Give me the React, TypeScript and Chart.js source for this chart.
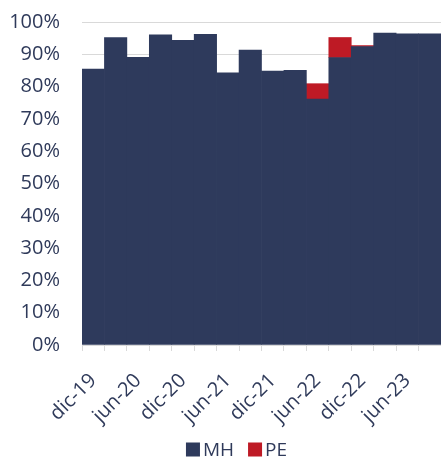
import React, { useEffect, useRef } from "react";
import { Chart, registerables } from "chart.js";

Chart.register(...registerables);

const categories = [
  "dic-19", "mar-20", "jun-20", "sep-20", "dic-20", "mar-21", "jun-21", "sep-21",
  "dic-21", "mar-22", "jun-22", "sep-22", "dic-22", "mar-23", "jun-23", "sep-23",
];
const mhValues = [85.4, 95.2, 89.1, 96.0, 94.3, 96.2, 84.3, 91.3, 84.8, 85.0, 76.1, 89.0, 92.4, 96.6, 96.3, 96.3];
const peValues = [null, null, null, null, null, null, null, null, null, null, 4.8, 6.2, 0.3, null, null, null];

const TEXT = "#2f3a5a";
const FONT = "'Open Sans', sans-serif";

const bottomLegend = {
  id: "bottomLegend",
  afterDraw(chart: any) {
    const ctx = chart.ctx;
    const items = chart.data.datasets.map((d: any) => ({ label: d.label, color: d.backgroundColor }));
    ctx.save();
    ctx.font = `19px ${FONT}`;
    const box = 14, gapText = 3, gapItem = 14;
    const widths = items.map((it: any) => box + gapText + ctx.measureText(it.label).width);
    const total = widths.reduce((a: number, b: number) => a + b, 0) + gapItem * (items.length - 1);
    let x = 236.5 - total / 2;
    const cy = 449.5;
    items.forEach((it: any, i: number) => {
      ctx.fillStyle = it.color;
      ctx.fillRect(x, cy - box / 2, box, box);
      ctx.fillStyle = TEXT;
      ctx.textBaseline = "middle";
      ctx.textAlign = "left";
      ctx.fillText(it.label, x + box + gapText, cy + 1);
      x += widths[i] + gapItem;
    });
    ctx.restore();
  },
};

export default function App() {
  const ref = useRef<HTMLCanvasElement | null>(null);
  useEffect(() => {
    if (!ref.current) return;
    const chart = new Chart(ref.current, {
      type: "bar",
      data: {
        labels: categories,
        datasets: [
          { label: "MH", data: mhValues, backgroundColor: "#2e3a5c", borderWidth: 0 },
          { label: "PE", data: peValues as any, backgroundColor: "#be1a25", borderWidth: 0 },
        ],
      },
      plugins: [bottomLegend],
      options: {
        animation: false,
        responsive: false,
        maintainAspectRatio: false,
        layout: { padding: { top: 0, right: 0, left: 0, bottom: 30 } },
        datasets: { bar: { barPercentage: 1, categoryPercentage: 1 } },
        plugins: {
          legend: { display: false },
          tooltip: { enabled: false },
        },
        scales: {
          x: {
            stacked: true,
            grid: { offset: true, drawOnChartArea: false, drawTicks: true, tickLength: 6, color: "#d9d9d9" },
            border: { display: true, color: "#d9d9d9" },
            ticks: {
              autoSkip: false,
              maxRotation: 45,
              minRotation: 45,
              padding: 18,
              color: TEXT,
              font: { family: FONT, size: 20 },
              callback: (_v: any, i: number) => (i % 2 === 0 ? categories[i] : ""),
            },
            afterFit: (s: any) => { s.height = 83; s.paddingRight = 0; s.paddingLeft = 0; },
          },
          y: {
            stacked: true,
            min: 0,
            max: 100,
            ticks: {
              stepSize: 10,
              padding: 22,
              color: TEXT,
              font: { family: FONT, size: 20 },
              callback: (v: any) => v + "%",
            },
            grid: { color: "#d9d9d9", drawTicks: false },
            border: { display: false },
            afterFit: (s: any) => { s.width = 82; s.paddingTop = 22; s.paddingBottom = 0; },
          },
        },
      },
    });
    return () => chart.destroy();
  }, []);
  return (
    <div style={{ position: "fixed", left: 0, top: 0, width: 441, height: 458, background: "#fff" }}>
      <canvas ref={ref} width={441} height={458} style={{ display: "block" }} />
    </div>
  );
}
